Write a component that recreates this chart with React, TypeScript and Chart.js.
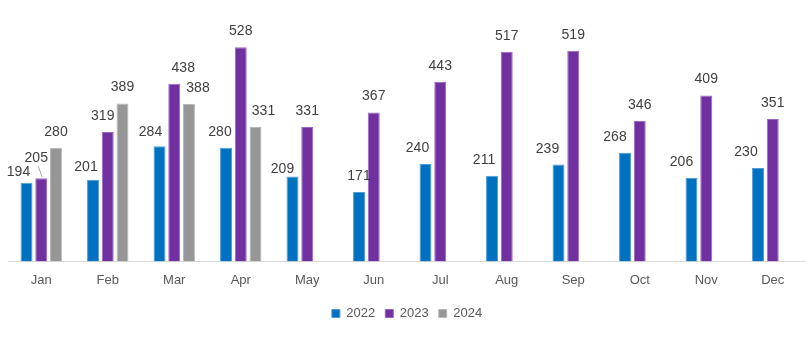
import React, { useEffect, useRef } from "react";
import { Chart, registerables } from "chart.js";

Chart.register(...registerables);

const months = ["Jan", "Feb", "Mar", "Apr", "May", "Jun", "Jul", "Aug", "Sep", "Oct", "Nov", "Dec"];
const seriesNames = ["2022", "2023", "2024"];
const values2022 = [194, 201, 284, 280, 209, 171, 240, 211, 239, 268, 206, 230];
const values2023 = [205, 319, 438, 528, 331, 367, 443, 517, 519, 346, 409, 351];
const values2024 = [280, 389, 388, 331, null, null, null, null, null, null, null, null];

const fillColors = ["#0070C0", "#7030A0", "#969696"];
const edgeColors = ["#4f9ad6", "#9a66c2", "#b8b8b8"];

// label nudges (dx, dy in px) mimicking the reference's label placement
const labelNudges: [number, number][][] = [
  [[-8, 5], [-7, 3], [-9, 2], [-6, 0], [-10, 9], [0, 0], [-8, 0], [-8, 0], [-11, 1], [-10, 0], [-10, 0], [-12, 0]],
  [[-5, -4], [-5, 0], [9, 0], [0, 0], [0, 0], [0, 0], [0, 0], [0, 0], [0, 0], [0, 0], [0, 0], [0, 0]],
  [[0, 0], [0, 0], [9, 0], [8, 0], [0, 0], [0, 0], [0, 0], [0, 0], [0, 0], [0, 0], [0, 0], [0, 0]],
];

const valueLabelPlugin = {
  id: "valueLabels",
  afterDatasetsDraw(chart: any) {
    const ctx = chart.ctx;
    ctx.save();
    ctx.font = "14px 'Liberation Sans', Arial, sans-serif";
    ctx.fillStyle = "#404040";
    ctx.textAlign = "center";
    ctx.textBaseline = "middle";
    chart.data.datasets.forEach((ds: any, di: number) => {
      const meta = chart.getDatasetMeta(di);
      meta.data.forEach((el: any, i: number) => {
        const v = ds.data[i];
        if (v === null || v === undefined) return;
        const [dx, dy] = labelNudges[di][i];
        const lx = el.x + dx;
        const ly = el.y - 16 + dy;
        ctx.fillText(String(v), lx, ly);
        if (di === 1 && i === 0) {
          ctx.strokeStyle = "#a6a6a6";
          ctx.lineWidth = 1;
          ctx.beginPath();
          ctx.moveTo(lx + 2, ly + 8);
          ctx.lineTo(el.x + 1, el.y - 1);
          ctx.stroke();
        }
      });
    });
    ctx.restore();
  },
};

export default function App() {
  const ref = useRef<HTMLCanvasElement | null>(null);
  useEffect(() => {
    if (!ref.current) return;
    const all = [values2022, values2023, values2024];
    const chart = new Chart(ref.current, {
      type: "bar",
      data: {
        labels: months,
        datasets: all.map((d, i) => ({
          label: seriesNames[i],
          data: d,
          backgroundColor: fillColors[i],
          borderColor: edgeColors[i],
          borderWidth: 1,
          barPercentage: 0.81,
          categoryPercentage: 0.665,
        })),
      },
      options: {
        responsive: false,
        animation: false,
        layout: { padding: { left: 8, right: 0, top: 18, bottom: 8 } },
        scales: {
          x: {
            grid: { display: false },
            border: { display: true, color: "#d9d9d9", width: 1 },
            ticks: {
              color: "#595959",
              font: { size: 13, family: "'Liberation Sans', Arial, sans-serif" },
              padding: 3,
            },
            afterFit: (scale: any) => {
              scale.height += 6;
            },
          },
          y: {
            display: false,
            min: 0,
            max: 600,
          },
        },
        plugins: {
          legend: {
            position: "bottom",
            labels: {
              boxWidth: 8,
              boxHeight: 8,
              padding: 10,
              color: "#595959",
              font: { size: 13, family: "'Liberation Sans', Arial, sans-serif" },
            },
          },
          tooltip: { enabled: false },
        },
      },
      plugins: [valueLabelPlugin],
    });
    return () => chart.destroy();
  }, []);
  return (
    <div style={{ position: "fixed", left: 0, top: 0, width: 806, height: 338, background: "#fff" }}>
      <canvas ref={ref} width={806} height={338} />
    </div>
  );
}
